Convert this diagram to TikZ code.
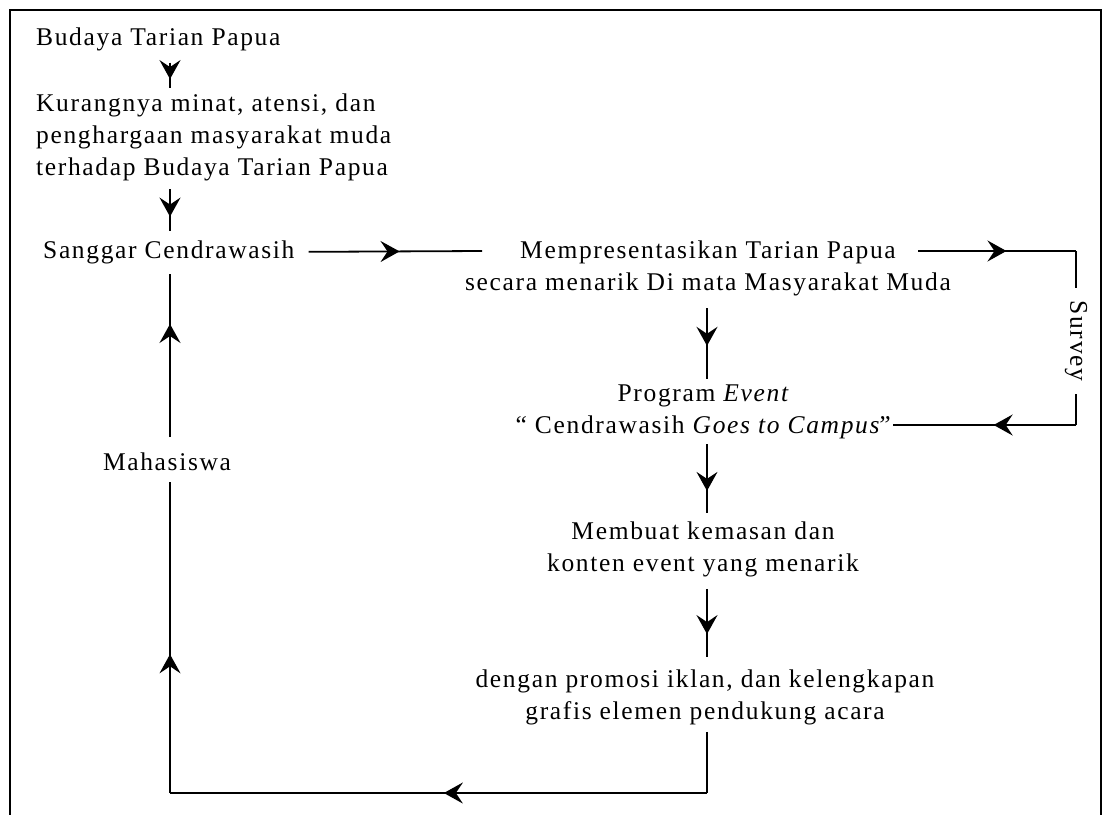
\documentclass[tikz,border=0pt]{standalone}
\usepackage{fontspec}
\setmainfont{Liberation Serif}[LetterSpace=6.5]
\usetikzlibrary{arrows.meta,decorations.markings}
\tikzset{
  txt/.style={inner sep=0pt, font=\fontsize{25.5}{32}\selectfont},
  conn/.style={line width=1.8pt, black},
  midarrow/.style={postaction={decorate},
    decoration={markings, mark=at position #1 with {\arrow{Stealth[length=19pt,width=21pt,inset=7pt]}}}},
  frameline/.style={line width=2.5pt}
}
\begin{document}
\begin{tikzpicture}[x=1pt,y=-1pt]
\useasboundingbox (0,0) rectangle (1107,814);
\draw[frameline] (10,816) -- (10,10) -- (1101,10) -- (1101,816);

\coordinate (lc) at (170,0);
\coordinate (mc) at (707,0);

\node[txt, anchor=base west] (budaya) at (36,45) {Budaya Tarian Papua};
\node[txt, anchor=west, align=left] (kur) at (36,137.5) {Kurangnya minat, atensi, dan\\penghargaan masyarakat muda\\terhadap Budaya Tarian Papua};
\node[txt, anchor=base west] (sanggar) at (43,258) {Sanggar Cendrawasih};
\node[txt, align=center] (mempres) at (708,268.5) {Mempresentasikan Tarian Papua\\secara menarik Di mata Masyarakat Muda};
\node[txt, align=center] (program) at (704,412) {Program \textit{Event}\\“ Cendrawasih \textit{Goes to Campus\kern-3pt”}};
\node[txt, align=center] (membuat) at (703,549) {Membuat kemasan dan\\konten event yang menarik};
\node[txt, align=center] (dengan) at (705,697) {dengan promosi iklan, dan kelengkapan\\grafis elemen pendukung acara};
\node[txt, anchor=base] (maha) at (167,470) {Mahasiswa};
\node[txt, rotate=-90, inner xsep=13pt] (survey) at (1076,341) {Survey};

\coordinate (m1w) at (482,251);
\coordinate (m1e) at (918,251);
\coordinate (tr) at (1076,251);
\coordinate (pe) at (893,425);
\coordinate (brr) at (1076,425);
\coordinate (br) at (707,793);
\coordinate (bl) at (170,793);

% left column
\draw[conn, midarrow=0.66, shorten <=12pt, shorten >=6pt] (budaya.south -| lc) -- (kur.north -| lc);
\draw[conn, midarrow=0.6, shorten <=8pt, shorten >=9pt] (kur.south -| lc) -- (sanggar.north -| lc);
% to middle
\draw[conn, midarrow=0.56, shorten <=14pt] (sanggar.east) -- (m1w);
% survey loop
\draw[conn, midarrow=0.56] (m1e) -- (tr);
\draw[conn] (tr) -- (survey.west);
\draw[conn] (survey.east) -- (brr);
\draw[conn, midarrow=0.45] (brr) -- (pe);
% middle column
\draw[conn, midarrow=0.56, shorten <=12pt, shorten >=6pt] (mempres.south -| mc) -- (program.north -| mc);
\draw[conn, midarrow=0.63, shorten <=5pt, shorten >=8pt] (program.south -| mc) -- (membuat.north -| mc);
\draw[conn, midarrow=0.62, shorten <=12pt, shorten >=12pt] (membuat.south -| mc) -- (dengan.north -| mc);
% return loop
\draw[conn, shorten <=7pt] (dengan.south -| mc) -- (br);
\draw[conn, midarrow=0.49] (br) -- (bl);
\draw[conn, midarrow=0.43, shorten >=12pt] (bl) -- (maha.south -| lc);
\draw[conn, midarrow=0.68, shorten <=15pt, shorten >=10pt] (maha.north -| lc) -- (sanggar.south -| lc);
\end{tikzpicture}
\end{document}
